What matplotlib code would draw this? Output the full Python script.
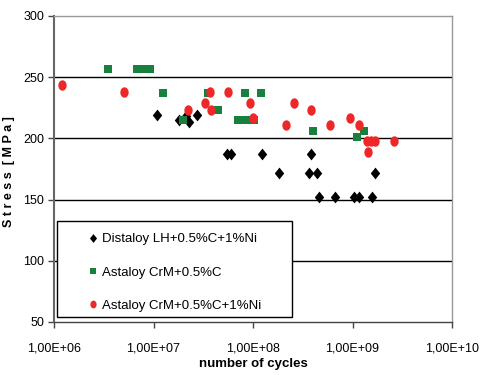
import numpy as np
import matplotlib
matplotlib.use("Agg")
import matplotlib.pyplot as plt
from matplotlib.patches import Rectangle
from matplotlib.ticker import FixedLocator, FuncFormatter, NullLocator

# ---------------- data ----------------
dist_cycles = [1.08e7, 1.8e7, 2.1e7, 2.3e7, 2.74e7, 5.5e7, 6.0e7, 1.22e8,
               1.82e8, 3.68e8, 3.86e8, 4.43e8, 4.6e8, 6.7e8, 1.04e9, 1.17e9,
               1.58e9, 1.67e9]
dist_stress = [219, 215, 218, 213, 219, 187, 187, 187,
               172, 172, 187, 172, 152, 152, 152, 152,
               152, 172]

crm_cycles = [3.5e6, 6.9e6, 7.7e6, 9.3e6, 1.24e7, 3.56e7, 8.3e7, 1.2e8,
              4.4e7, 2.0e7, 7.1e7, 8.5e7, 1.03e8, 4.0e8, 1.3e9, 1.1e9]
crm_stress = [257, 257, 257, 257, 237, 237, 237, 237,
              223, 215, 215, 215, 215, 206, 206, 201]

crmni_cycles = [1.2e6, 5.0e6, 3.7e7, 5.65e7, 3.27e7, 9.3e7, 2.24e7, 3.8e7,
                9.9e7, 2.56e8, 2.13e8, 3.8e8, 6.0e8, 9.5e8, 1.16e9, 1.41e9,
                1.55e9, 1.68e9, 1.43e9, 2.6e9]
crmni_stress = [244, 238, 238, 238, 229, 229, 223, 223,
                217, 229, 211, 223, 211, 217, 211, 198,
                198, 198, 189, 198]

series_labels = ["Distaloy LH+0.5%C+1%Ni", "Astaloy CrM+0.5%C",
                 "Astaloy CrM+0.5%C+1%Ni"]
x_ticks = [1e6, 1e7, 1e8, 1e9, 1e10]
y_ticks = [50, 100, 150, 200, 250, 300]

# ---------------- style ----------------
plt.rcParams['font.family'] = ['Liberation Sans', 'DejaVu Sans']

fig = plt.figure(figsize=(4.84, 3.75), dpi=100)
ax = fig.add_axes([54/484, 1-322/375, (452-54)/484, (322-16)/375])

green = '#17803d'
red = '#ee2828'

t = np.linspace(0, 2*np.pi, 40)
ellipse = np.column_stack([0.4*np.cos(t), 0.5*np.sin(t)])
diamond = [(0, 0.5), (0.4, 0), (0, -0.5), (-0.4, 0), (0, 0.5)]

ax.plot(dist_cycles, dist_stress, linestyle='none', marker=diamond, color='black',
        markersize=8.5, markeredgewidth=0, label=series_labels[0], zorder=3)
ax.plot(crm_cycles, crm_stress, linestyle='none', marker='s', color=green,
        markersize=6, markeredgewidth=0, label=series_labels[1], zorder=3)
ax.plot(crmni_cycles, crmni_stress, linestyle='none', marker=ellipse, color=red,
        markersize=7.5, markeredgewidth=0, label=series_labels[2], zorder=4)

ax.set_xscale('log')
ax.set_xlim(1e6, 1e10)
ax.set_ylim(50, 300)
ax.xaxis.set_major_locator(FixedLocator(x_ticks))
ax.xaxis.set_minor_locator(NullLocator())
ax.xaxis.set_major_formatter(FuncFormatter(
    lambda v, p: "1,00E+{:02d}".format(int(round(np.log10(v))))))
ax.yaxis.set_major_locator(FixedLocator(y_ticks))

for yv in y_ticks[1:-1]:
    ax.axhline(yv, color='black', linewidth=1.0, zorder=1)

for s in ['top', 'right']:
    ax.spines[s].set_color('#999999')
    ax.spines[s].set_linewidth(1.0)
ax.spines['left'].set_color('#666666')
ax.spines['left'].set_linewidth(1.5)
ax.spines['bottom'].set_color('#444444')
ax.spines['bottom'].set_linewidth(1.0)

ax.tick_params(axis='both', labelsize=9, length=4, width=1, color='#444444',
               direction='out')
ax.tick_params(axis='y', pad=3)
ax.tick_params(axis='x', pad=11)

ax.set_xlabel("number of cycles", fontsize=9.5, fontweight='bold', labelpad=2)
ax.set_ylabel("S t r e s s  [ M P a ]", fontsize=9, fontweight='bold')
ax.yaxis.set_label_coords(-0.098, 0.49)

# legend box (frame drawn separately)
box = Rectangle((3/398, 5/306), 235/398, 96/306, transform=ax.transAxes,
                facecolor='white', edgecolor='black', linewidth=1.0, zorder=5)
ax.add_patch(box)

leg = ax.legend(loc='upper left', bbox_to_anchor=(34/398, (322-233)/306),
                borderaxespad=0, borderpad=0, fontsize=9.5, frameon=False,
                labelspacing=1.6, handletextpad=0.28, handlelength=0.8,
                markerscale=0.75)
leg.set_zorder(6)

fig.savefig("out.png", dpi=100, facecolor='white')
